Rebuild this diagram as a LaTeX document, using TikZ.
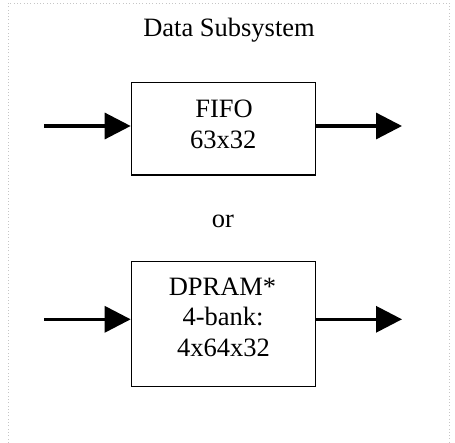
\documentclass[tikz,border=0pt]{standalone}
\usepackage{fontspec}
\setmainfont{Liberation Serif}
\usetikzlibrary{arrows.meta}
\begin{document}
\begin{tikzpicture}[x=1pt,y=-1pt,
  blk/.style={draw=black,line width=1.2pt,fill=white,minimum width=184.4pt,inner sep=0pt},
  lbl/.style={anchor=base,inner sep=0pt,font=\fontsize{26.5}{31}\selectfont},
  flow/.style={line width=3.3pt,-{Triangle[length=26pt,width=26pt]}},
  frame/.style={draw=gray!45,line width=0.9pt,dash pattern=on 0.9pt off 2.4pt}]
\useasboundingbox (0,0) rectangle (455,442);
\draw[frame] (8,446) -- (8,3) -- (449.5,3) -- (449.5,446);
\node[lbl] (title) at (229,36) {Data Subsystem};
% FIFO block
\node[blk,minimum height=92.3pt] (fifo) at (223.5,128.8) {};
\node[lbl] (fifoA) at (224,117.3) {FIFO};
\node[lbl] (fifoB) at (223.3,148.3) {63x32};
\coordinate (in1) at (44,126);
\coordinate (out1) at (402,126);
\draw[flow] (in1) -- (in1 -| fifo.west);
\draw[flow] (out1 -| fifo.east) -- (out1);
% or
\node[lbl] (or) at (223,227.7) {or};
% DPRAM block
\node[blk,minimum height=125pt] (dpram) at (223.5,324.2) {};
\node[lbl] (dpA) at (222.5,295) {DPRAM*};
\node[lbl] (dpB) at (223,325.5) {4-bank:};
\node[lbl] (dpC) at (223.5,356.5) {4x64x32};
\coordinate (in2) at (44,319.3);
\coordinate (out2) at (402,319.3);
\draw[flow] (in2) -- (in2 -| dpram.west);
\draw[flow] (out2 -| dpram.east) -- (out2);
\end{tikzpicture}
\end{document}
